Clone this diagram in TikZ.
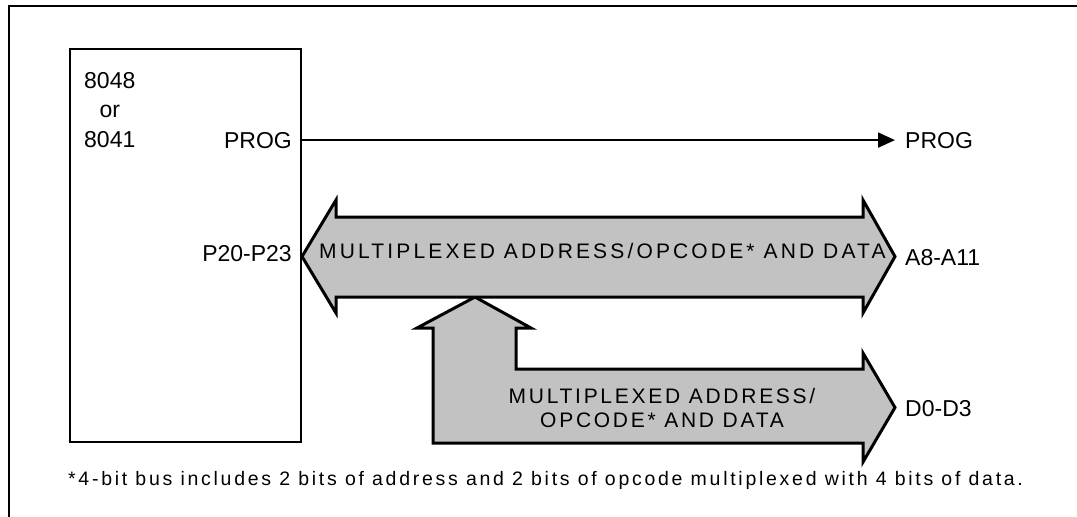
\documentclass[tikz,border=0pt]{standalone}
\usepackage{fontspec}
\setmainfont{Liberation Sans}
\usetikzlibrary{arrows.meta}
\definecolor{busfill}{gray}{0.76}

\begin{document}
\begin{tikzpicture}[x=1pt,y=-1pt,
  lbl/.style={inner sep=0pt, font=\fontsize{23}{29.5}\selectfont},
  buslbl/.style={inner sep=0pt, font=\fontsize{21}{24}\selectfont\addfontfeatures{LetterSpace=#1}},
  bus/.style={draw, line width=3pt, line join=miter, fill=busfill},
  chipbox/.style={draw, line width=2pt, minimum width=231pt, minimum height=393pt, inner sep=0pt},
  wire/.style={line width=2pt, -{Triangle[length=17pt,width=15pt]}},
  note/.style={inner sep=0pt, font=\fontsize{19.5}{22}\selectfont\addfontfeatures{LetterSpace=14}}]

\useasboundingbox (0,0) rectangle (1077,517);

% open frame: top and left rules only
\draw[line width=1.5pt] (9,517) -- (9,6) -- (1077,6);

% microcontroller
\node[chipbox] (chip) at (185.5,245.5) {};
\node[lbl, align=center, anchor=north west] (part) at (84,72) {8048\\or\\8041};
\node[lbl, anchor=base east] (progin) at (292,148) {PROG};
\node[lbl, anchor=base east] (port) at (292,261) {P20-P23};

% signals on the far side
\node[lbl, anchor=base west] (progout) at (905,148) {PROG};
\node[lbl, anchor=base west] (addr) at (905,265) {A8-A11};
\node[lbl, anchor=base west] (data) at (905,416) {D0-D3};

\draw[wire, shorten >=10pt] (chip.east |- progin) -- (progout.west);

% data bus branch (up arrow feeding a right arrow)
\draw[bus] (475,297) -- (531,328) -- (516,328) -- (516,369) -- (863,369)
  -- (863,353) -- (895,407.5) -- (863,462) -- (863,443) -- (433,443)
  -- (433,328) -- (417,328) -- cycle;

% multiplexed port bus (double-headed arrow)
\draw[bus] (302,256.5) -- (336,200) -- (336,217) -- (863,217) -- (863,200)
  -- (895,256.5) -- (863,313) -- (863,297) -- (336,297) -- (336,313) -- cycle;

\node[buslbl=15, anchor=base west] (bustext) at (319,258) {MULTIPLEXED ADDRESS/OPCODE* AND DATA};
% multi-line node: base anchor sits on the last line
\node[buslbl=13, align=center, anchor=base] (branchtext) at (662,427) {MULTIPLEXED ADDRESS/\\OPCODE* AND DATA};

% footnote
\node[note, anchor=base west] (fn) at (68,485) {*4-bit bus includes 2 bits of address and 2 bits of opcode multiplexed with 4 bits of data.};

\end{tikzpicture}
\end{document}
